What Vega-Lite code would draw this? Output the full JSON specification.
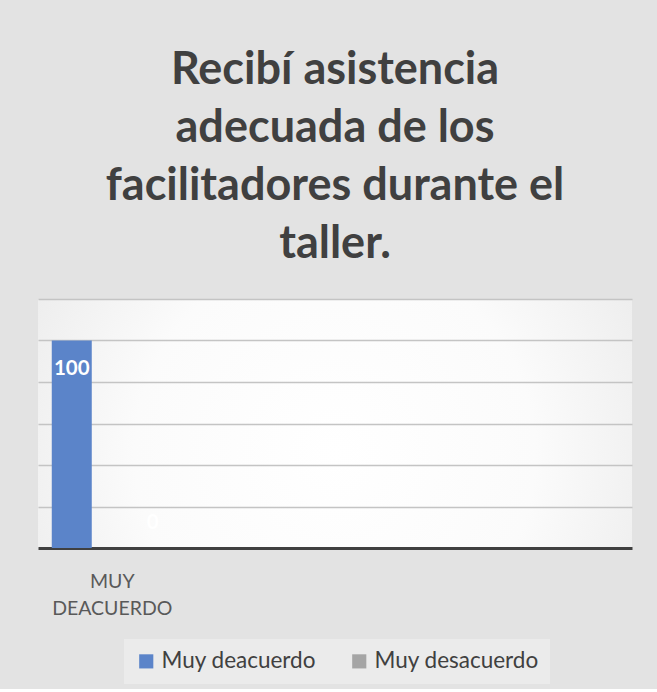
{
  "$schema": "https://vega.github.io/schema/vega-lite/v6.json",
  "width": 594,
  "height": 249,
  "padding": {"left": 38, "right": 25, "top": 48, "bottom": 5},
  "background": "#e3e3e3",
  "title": {
    "text": ["Recibí asistencia", "adecuada de los", "facilitadores durante el", "taller."],
    "font": "Lato",
    "fontSize": 45,
    "fontWeight": "bold",
    "lineHeight": 58,
    "color": "#404040",
    "anchor": "middle",
    "offset": 32
  },
  "config": {
    "view": {
      "stroke": null,
      "fill": {
        "gradient": "radial",
        "x1": 0.5, "y1": 0.55, "x2": 0.5, "y2": 0.55,
        "r1": 0, "r2": 0.75,
        "stops": [
          {"offset": 0, "color": "#ffffff"},
          {"offset": 0.45, "color": "#fbfbfb"},
          {"offset": 1, "color": "#e3e3e3"}
        ]
      }
    },
    "font": "Lato"
  },
  "data": {
    "values": [
      {"categoria": "MUY DEACUERDO", "serie": "Muy deacuerdo", "valor": 100},
      {"categoria": "MUY DEACUERDO", "serie": "Muy desacuerdo", "valor": 0}
    ]
  },
  "encoding": {
    "x": {
      "field": "categoria",
      "type": "nominal",
      "scale": {"domain": ["MUY DEACUERDO", " ", "  ", "   "], "paddingInner": 0, "paddingOuter": 0},
      "axis": {
        "title": null,
        "labelAngle": 0,
        "labelExpr": "split(datum.label, ' ')",
        "labelFont": "Lato",
        "labelFontSize": 19.5,
        "labelColor": "#595959",
        "labelLineHeight": 27,
        "labelPadding": 24,
        "ticks": false,
        "domainColor": "#404040",
        "domainWidth": 3,
        "grid": false
      }
    },
    "xOffset": {
      "field": "serie",
      "type": "nominal",
      "scale": {"paddingInner": 0.506, "paddingOuter": 0.17}
    },
    "y": {
      "field": "valor",
      "type": "quantitative",
      "scale": {"domain": [0, 120], "nice": false},
      "axis": {
        "title": null,
        "labels": false,
        "ticks": false,
        "domain": false,
        "values": [20, 40, 60, 80, 100, 120],
        "gridColor": "#c4c4c4",
        "gridWidth": 1.5
      }
    }
  },
  "layer": [
    {
      "mark": {"type": "bar"},
      "encoding": {
        "color": {
          "field": "serie",
          "type": "nominal",
          "scale": {"domain": ["Muy deacuerdo", "Muy desacuerdo"], "range": ["#5b84c9", "#a5a5a5"]},
          "legend": {
            "title": null,
            "orient": "none",
            "legendX": 86,
            "legendY": 340,
            "direction": "horizontal",
            "symbolType": "square",
            "symbolSize": 200,
            "symbolStrokeWidth": 0,
            "labelFont": "Lato",
            "labelFontSize": 22.5,
            "labelColor": "#404040",
            "labelLimit": 400,
            "fillColor": "#ebebeb",
            "padding": 11,
            "columnPadding": 31
          }
        }
      }
    },
    {
      "transform": [{"filter": "datum.valor > 0"}],
      "mark": {"type": "text", "dy": 28, "color": "#ffffff", "fontSize": 20.5, "fontWeight": "bold", "font": "Lato"},
      "encoding": {"text": {"field": "valor", "type": "quantitative"}}
    },
    {
      "transform": [{"filter": "datum.valor == 0"}],
      "mark": {"type": "text", "dy": -25, "color": "#ffffff", "fontSize": 20.5, "fontWeight": "bold", "font": "Lato"},
      "encoding": {"text": {"field": "valor", "type": "quantitative"}}
    }
  ]
}
